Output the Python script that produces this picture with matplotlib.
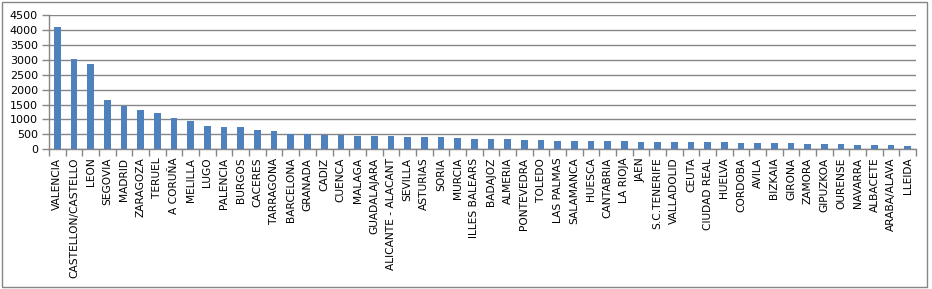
import numpy as np
import matplotlib
matplotlib.use("Agg")
import matplotlib.pyplot as plt
from matplotlib.patches import Rectangle
from matplotlib.ticker import FixedLocator

# Data
provinces = [
    "VALENCIA", "CASTELLON/CASTELLO", "LEON", "SEGOVIA", "MADRID", "ZARAGOZA",
    "TERUEL", "A CORUÑA", "MELILLA", "LUGO", "PALENCIA", "BURGOS", "CACERES",
    "TARRAGONA", "BARCELONA", "GRANADA", "CADIZ", "CUENCA", "MALAGA",
    "GUADALAJARA", "ALICANTE - ALACANT", "SEVILLA", "ASTURIAS", "SORIA",
    "MURCIA", "ILLES BALEARS", "BADAJOZ", "ALMERIA", "PONTEVEDRA", "TOLEDO",
    "LAS PALMAS", "SALAMANCA", "HUESCA", "CANTABRIA", "LA RIOJA", "JAEN",
    "S.C.TENERIFE", "VALLADOLID", "CEUTA", "CIUDAD REAL", "HUELVA", "CORDOBA",
    "AVILA", "BIZKAIA", "GIRONA", "ZAMORA", "GIPUZKOA", "OURENSE", "NAVARRA",
    "ALBACETE", "ARABA/ALAVA", "LLEIDA",
]
values = [
    4090, 3010, 2850, 1650, 1450, 1320, 1215, 1050, 950, 780, 750, 745, 647,
    613, 515, 512, 492, 490, 447, 446, 445, 413, 412, 411, 380, 347, 346, 345,
    313, 312, 280, 279, 279, 279, 278, 246, 246, 245, 245, 245, 244, 212, 212,
    211, 211, 179, 178, 178, 146, 145, 144, 112,
]
yticks = [0, 500, 1000, 1500, 2000, 2500, 3000, 3500, 4000, 4500]

bar_color = "#4F81BD"
grid_color = "#868686"

fig = plt.figure(figsize=(9.32, 2.89), dpi=100)
ax = fig.add_axes([0.0526, 0.4834, 0.983 - 0.0526, 0.948 - 0.4834])

x = np.arange(len(provinces))
ax.bar(x, values, width=0.4, color=bar_color, zorder=3)

ax.set_xlim(-0.5, len(provinces) - 0.5)
ax.set_ylim(0, 4500)
ax.set_yticks(yticks)
ax.yaxis.grid(True, color=grid_color, linewidth=1, zorder=0)

# labels at category centres, tick marks between categories
ax.set_xticks(x)
ax.set_xticklabels(provinces, rotation=90, fontsize=7.7)
ax.xaxis.set_minor_locator(FixedLocator(np.arange(len(provinces) + 1) - 0.5))
ax.tick_params(axis="x", which="major", length=0, pad=6)
ax.tick_params(axis="x", which="minor", length=5, color=grid_color, width=1)
ax.tick_params(axis="y", length=5, color=grid_color, width=1, labelsize=8, pad=3)

for side in ["top", "right"]:
    ax.spines[side].set_visible(False)
for side in ["left", "bottom"]:
    ax.spines[side].set_color(grid_color)
    ax.spines[side].set_linewidth(1)

# outer chart border
fig.patches.append(Rectangle((1.5 / 932, 2.5 / 289), 925.5 / 932, 285 / 289,
                             transform=fig.transFigure, fill=False,
                             edgecolor=grid_color, linewidth=1))

fig.savefig("out.png", dpi=100)
